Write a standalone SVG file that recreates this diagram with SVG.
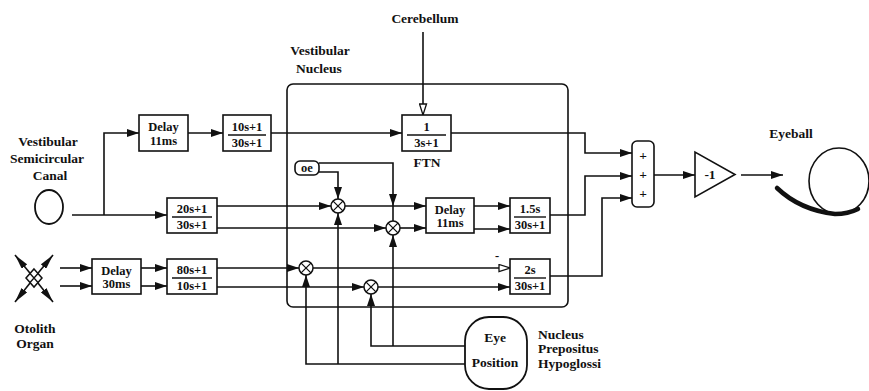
<svg xmlns="http://www.w3.org/2000/svg" width="869" height="391" viewBox="0 0 869 391">
<style>
.bx{fill:#fff;stroke:#111;stroke-width:1.6}
.ln{fill:none;stroke:#111;stroke-width:1.6}
.t{font-family:"Liberation Serif","Times New Roman","DejaVu Serif",serif;font-weight:bold;font-size:13.5px;fill:#111;text-anchor:middle}
.s{font-family:"Liberation Serif","Times New Roman","DejaVu Serif",serif;font-weight:bold;font-size:12.5px;fill:#111;text-anchor:middle}
.l{font-family:"Liberation Serif","Times New Roman","DejaVu Serif",serif;font-weight:bold;font-size:13.5px;fill:#111}
.fl{stroke:#111;stroke-width:1.4}
.ol{stroke:#111;stroke-width:1.6}
</style>
<defs>
<marker id="a" viewBox="0 0 12 8" refX="12" refY="4" markerWidth="12" markerHeight="8" orient="auto" markerUnits="userSpaceOnUse"><path d="M0,0 L12,4 L0,8 z" fill="#111"/></marker>
<marker id="h" viewBox="0 0 13 9" refX="12" refY="4.5" markerWidth="13" markerHeight="9" orient="auto" markerUnits="userSpaceOnUse"><path d="M1,1 L12,4.5 L1,8 z" fill="#fff" stroke="#111" stroke-width="1.3"/></marker>
<marker id="o" viewBox="0 0 15 7" refX="15" refY="3.5" markerWidth="15" markerHeight="7" orient="auto" markerUnits="userSpaceOnUse"><path d="M0,0 L15,3.5 L0,7 z" fill="#111"/></marker>
<g id="mul"><circle r="7" fill="#fff" stroke="#111" stroke-width="1.5"/><path d="M-4.9,-4.9 L4.9,4.9 M4.9,-4.9 L-4.9,4.9" stroke="#111" stroke-width="1.3"/></g>
</defs>

<g id="connectors">
<path class="ln" d="M72,215 H167" marker-end="url(#a)"/>
<path class="ln" d="M104,215 V133 H139" marker-end="url(#a)"/>
<path class="ln" d="M188,133 H223" marker-end="url(#a)"/>
<path class="ln" d="M271,133 H402" marker-end="url(#a)"/>
<path class="ln" d="M423,32 V115" marker-end="url(#h)"/>
<path class="ln" d="M451,133 H585 V153 H632" marker-end="url(#a)"/>
<path class="ln" d="M217,206 H331" marker-end="url(#a)"/>
<path class="ln" d="M217,228 H386" marker-end="url(#a)"/>
<path class="ln" d="M345,206 H426" marker-end="url(#a)"/>
<path class="ln" d="M400,228 H426" marker-end="url(#a)"/>
<path class="ln" d="M319,172 H338 V199" marker-end="url(#a)"/>
<path class="ln" d="M319,163 H393 V206" marker-end="url(#a)"/>
<path class="ln" d="M393,206 V221"/>
<path class="ln" d="M474,206 H510" marker-end="url(#a)"/>
<path class="ln" d="M474,229 H510" marker-end="url(#a)"/>
<path class="ln" d="M550,215 H585 V176 H632" marker-end="url(#a)"/>
<path class="ln" d="M550,276 H602 V198 H632" marker-end="url(#a)"/>
<path class="ln" d="M654,175 H695" marker-end="url(#a)"/>
<path class="ln" d="M741,175 H783" marker-end="url(#a)"/>
<path class="ln" d="M60,268 H92" marker-end="url(#a)"/>
<path class="ln" d="M60,286 H92" marker-end="url(#a)"/>
<path class="ln" d="M141,268 H167" marker-end="url(#a)"/>
<path class="ln" d="M141,286 H167" marker-end="url(#a)"/>
<path class="ln" d="M217,268 H299" marker-end="url(#a)"/>
<path class="ln" d="M217,287 H364" marker-end="url(#a)"/>
<path class="ln" d="M313,268 H510" marker-end="url(#h)"/>
<path class="ln" d="M378,287 H510" marker-end="url(#a)"/>
<path class="ln" d="M465,346 H371 V294" marker-end="url(#a)"/>
<path class="ln" d="M393,346 V235" marker-end="url(#a)"/>
<path class="ln" d="M465,364 H306 V275" marker-end="url(#a)"/>
<path class="ln" d="M338,364 V213" marker-end="url(#a)"/>
</g>

<g id="vestibular-nucleus">
<rect x="287" y="84" width="281" height="223" rx="6" fill="none" stroke="#111" stroke-width="1.6"/>
<text class="t" x="320" y="55">Vestibular</text>
<text class="t" x="319" y="73">Nucleus</text>
</g>

<g id="canal">
<ellipse cx="49" cy="207" rx="14" ry="17" fill="none" stroke="#111" stroke-width="1.8"/>
<text class="t" x="48" y="146">Vestibular</text>
<text class="t" x="47" y="163">Semicircular</text>
<text class="t" x="50" y="180">Canal</text>
</g>

<g id="otolith">
<line class="ol" x1="34" y1="278" x2="15" y2="255" marker-end="url(#o)"/>
<line class="ol" x1="34" y1="278" x2="53" y2="255" marker-end="url(#o)"/>
<line class="ol" x1="34" y1="278" x2="15" y2="302" marker-end="url(#o)"/>
<line class="ol" x1="34" y1="278" x2="53" y2="302" marker-end="url(#o)"/>
<polygon points="34,269 42,278 34,287 26,278" fill="#fff" stroke="#111" stroke-width="1.5"/>
<path d="M30,273.5 L38,282.5 M38,273.5 L30,282.5" stroke="#111" stroke-width="1.3"/>
<text class="t" x="35" y="333">Otolith</text>
<text class="t" x="35" y="348">Organ</text>
</g>

<g id="delay1">
<rect class="bx" x="139" y="115" width="49" height="36"/>
<text class="s" x="163.5" y="131">Delay</text>
<text class="s" x="163.5" y="145">11ms</text>
</g>

<g id="tf1">
<rect class="bx" x="223" y="115" width="48" height="36"/>
<text class="s" x="247" y="131">10s+1</text>
<line class="fl" x1="228" y1="135" x2="266" y2="135"/>
<text class="s" x="247" y="147">30s+1</text>
</g>

<g id="cerebellum">
<text class="t" x="425" y="23">Cerebellum</text>
</g>

<g id="ftn">
<rect class="bx" x="402" y="115" width="49" height="36"/>
<text class="s" x="426.5" y="131">1</text>
<line class="fl" x1="407" y1="135" x2="446" y2="135"/>
<text class="s" x="426.5" y="147">3s+1</text>
<text class="t" x="427" y="167">FTN</text>
</g>

<g id="tf2">
<rect class="bx" x="167" y="198" width="50" height="35"/>
<text class="s" x="192" y="213">20s+1</text>
<line class="fl" x1="172" y1="217" x2="212" y2="217"/>
<text class="s" x="192" y="229">30s+1</text>
</g>

<g id="delay2">
<rect class="bx" x="92" y="259" width="49" height="35"/>
<text class="s" x="116.5" y="275">Delay</text>
<text class="s" x="116.5" y="288">30ms</text>
</g>

<g id="tf3">
<rect class="bx" x="167" y="259" width="50" height="35"/>
<text class="s" x="192" y="274">80s+1</text>
<line class="fl" x1="172" y1="278" x2="212" y2="278"/>
<text class="s" x="192" y="290">10s+1</text>
</g>

<g id="oe">
<rect x="295" y="161" width="24" height="14" rx="5" fill="#fff" stroke="#111" stroke-width="1.6"/>
<text class="s" x="307" y="172">oe</text>
</g>

<g id="mult1"><use href="#mul" x="338" y="206"/></g>
<g id="mult2"><use href="#mul" x="393" y="228"/></g>
<g id="mult3"><use href="#mul" x="306" y="268"/></g>
<g id="mult4"><use href="#mul" x="371" y="287"/></g>

<g id="delay3">
<rect class="bx" x="426" y="198" width="48" height="35"/>
<text class="s" x="450" y="214">Delay</text>
<text class="s" x="450" y="227">11ms</text>
</g>

<g id="tf4">
<rect class="bx" x="510" y="198" width="40" height="35"/>
<text class="s" x="530" y="213">1.5s</text>
<line class="fl" x1="514" y1="217" x2="546" y2="217"/>
<text class="s" x="530" y="229">30s+1</text>
</g>

<g id="tf5">
<rect class="bx" x="510" y="259" width="40" height="35"/>
<text class="s" x="530" y="274">2s</text>
<line class="fl" x1="514" y1="278" x2="546" y2="278"/>
<text class="s" x="530" y="290">30s+1</text>
<text class="s" x="497" y="260">-</text>
</g>

<g id="sum">
<rect x="632" y="141" width="22" height="66" rx="5" fill="#fff" stroke="#111" stroke-width="1.6"/>
<text class="t" x="643" y="160">+</text>
<text class="t" x="643" y="179">+</text>
<text class="t" x="643" y="198">+</text>
</g>

<g id="gain">
<polygon points="695,152 695,197 735,174.5" fill="#fff" stroke="#111" stroke-width="1.6"/>
<text class="t" x="710" y="179">-1</text>
</g>

<g id="eyeball">
<ellipse cx="839" cy="181" rx="30" ry="33" fill="none" stroke="#111" stroke-width="1.6"/>
<path d="M777,188 Q800,210 835,214 Q848,214 858,209" fill="none" stroke="#111" stroke-width="4.5" stroke-linecap="round"/>
<text class="t" x="791" y="138">Eyeball</text>
</g>

<g id="eye-position">
<rect x="465" y="317" width="62" height="72" rx="24" fill="#fff" stroke="#111" stroke-width="1.8"/>
<text class="t" x="495" y="342">Eye</text>
<text class="t" x="495" y="367">Position</text>
<text class="l" x="538" y="339">Nucleus</text>
<text class="l" x="538" y="353">Prepositus</text>
<text class="l" x="538" y="368">Hypoglossi</text>
</g>
</svg>
